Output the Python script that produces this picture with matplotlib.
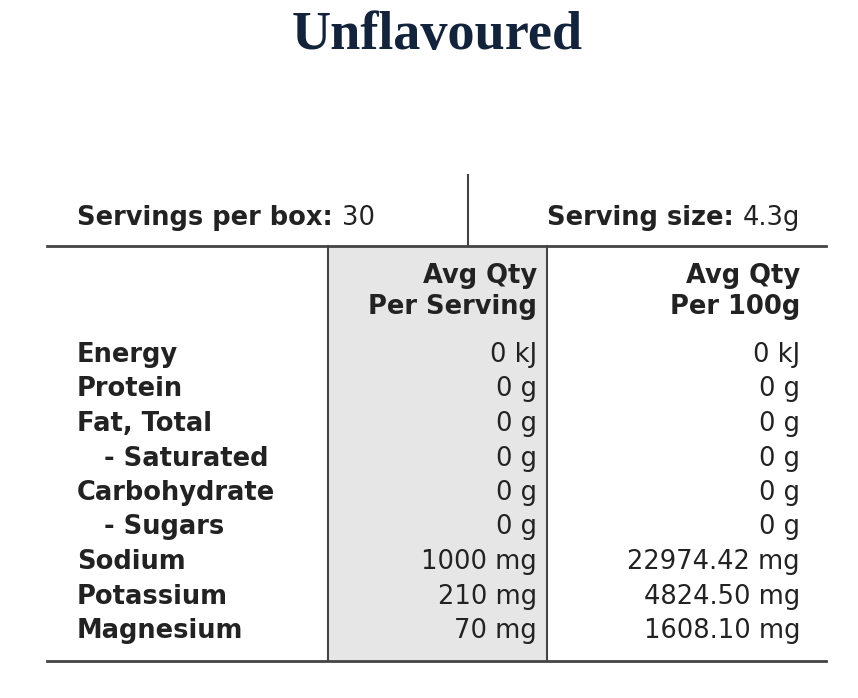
import matplotlib
matplotlib.use("Agg")
import matplotlib.pyplot as plt
from matplotlib.patches import Rectangle

title = "Unflavoured"
nutrients = ["Energy", "Protein", "Fat, Total", "   - Saturated", "Carbohydrate",
             "   - Sugars", "Sodium", "Potassium", "Magnesium"]
per_serving = ["0 kJ", "0 g", "0 g", "0 g", "0 g", "0 g", "1000 mg", "210 mg", "70 mg"]
per_100g = ["0 kJ", "0 g", "0 g", "0 g", "0 g", "0 g", "22974.42 mg", "4824.50 mg", "1608.10 mg"]
servings_per_box = "30"
serving_size = "4.3g"

fig = plt.figure(figsize=(8.58, 6.98), dpi=100)
ax = fig.add_axes([0, 0, 1, 1])
ax.set_xlim(0, 858)
ax.set_ylim(698, 0)
ax.axis("off")

ink = "#222222"
font = "DejaVu Sans"
fs = 18.5

ax.text(437, 36, title, ha="center", va="center", fontsize=39, fontweight="bold",
        family="Liberation Serif", color="#14233c")

# grey column
ax.add_patch(Rectangle((328, 246), 219, 414, facecolor="#e6e6e6", edgecolor="none"))
ax.plot([328, 328], [246, 660], color="#444", lw=1.5)
ax.plot([547, 547], [246, 660], color="#444", lw=1.5)
ax.plot([468, 468], [175, 246], color="#444", lw=1.5)
ax.plot([47, 826], [246, 246], color="#444", lw=2)
ax.plot([47, 826], [661, 661], color="#444", lw=2)

# serving info
t = ax.text(77, 218, "Servings per box: ", ha="left", va="center", fontsize=fs,
            fontweight="semibold", family=font, color=ink)
ax.annotate(servings_per_box, xycoords=t, xy=(1, 0.5), va="center", ha="left",
            fontsize=fs, family=font, color=ink)
t2 = ax.text(800, 218, serving_size, ha="right", va="center", fontsize=fs,
             family=font, color=ink)
ax.annotate("Serving size: ", xycoords=t2, xy=(0, 0.5), va="center", ha="right",
            fontsize=fs, fontweight="semibold", family=font, color=ink)

# headers
for x, lines in [(537, ["Avg Qty", "Per Serving"]), (800, ["Avg Qty", "Per 100g"])]:
    for i, s in enumerate(lines):
        ax.text(x, 276 + i * 31, s, ha="right", va="center", fontsize=fs,
                fontweight="semibold", family=font, color=ink)

# rows
for i, (n, a, b) in enumerate(zip(nutrients, per_serving, per_100g)):
    y = 355 + i * 34.5
    ax.text(77, y, n, ha="left", va="center", fontsize=fs, fontweight="semibold",
            family=font, color=ink)
    ax.text(537, y, a, ha="right", va="center", fontsize=fs, family=font, color=ink)
    ax.text(800, y, b, ha="right", va="center", fontsize=fs, family=font, color=ink)

fig.savefig("out.png", dpi=100)
